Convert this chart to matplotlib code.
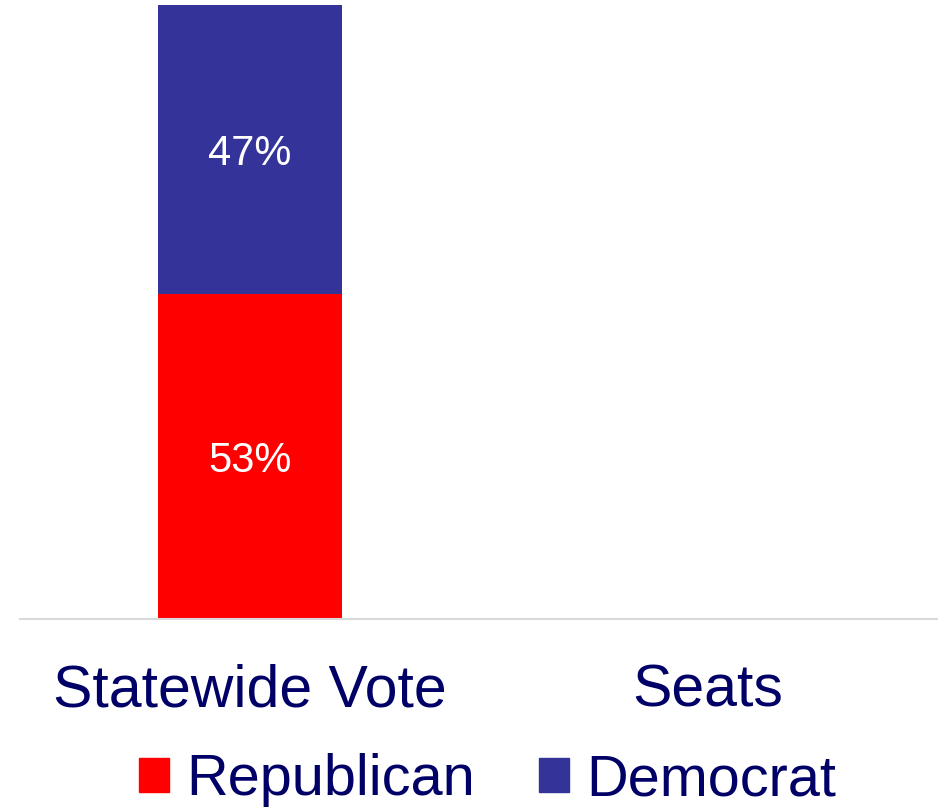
import matplotlib.pyplot as plt
from matplotlib.patches import Patch

plt.rcParams['font.family'] = ['Liberation Sans', 'DejaVu Sans']

categories = ['Statewide Vote', 'Seats']
republican = [0.53, 0.0]
democrat = [0.47, 0.0]
rep_labels = ['53%', '']
dem_labels = ['47%', '']

red = '#ff0000'
blue = '#333399'
navy = '#000066'

fig = plt.figure(figsize=(9.38, 8.08), dpi=100)
ax = fig.add_axes([20 / 938, 189 / 808, 918 / 938, 614 / 808])

x = list(range(len(categories)))
b1 = ax.bar(x, republican, width=0.402, color=red)
b2 = ax.bar(x, democrat, width=0.402, bottom=republican, color=blue)

for bars, vals, labs in [(b1, republican, rep_labels), (b2, democrat, dem_labels)]:
    for rect, v, lab in zip(bars, vals, labs):
        if v > 0:
            ax.annotate(lab, (rect.get_x() + rect.get_width() / 2,
                              rect.get_y() + rect.get_height() / 2),
                        xytext=(0, -5), textcoords='offset pixels',
                        ha='center', va='center', color='white', fontsize=30)

ax.set_xlim(-0.502, 1.502)
ax.set_ylim(0, 1)
ax.set_xticks(x)
ax.set_xticklabels(categories, fontsize=42.5, color=navy)
ax.tick_params(axis='x', length=0, pad=32)
ax.set_yticks([])
for s in ['top', 'right', 'left']:
    ax.spines[s].set_visible(False)
ax.spines['bottom'].set_color('#d9d9d9')
ax.spines['bottom'].set_linewidth(1.5)

handles = [Patch(color=red, label='Republican'), Patch(color=blue, label='Democrat')]
leg = fig.legend(handles=handles, loc='center', bbox_to_anchor=(487.5 / 938, 1 - 780 / 808),
                 ncol=2, frameon=False, fontsize=41.5, handlelength=0.53, handleheight=0.53,
                 handletextpad=0.3, columnspacing=1.1, borderpad=0, borderaxespad=0)
for t in leg.get_texts():
    t.set_color(navy)

fig.savefig('out.png', dpi=100)
